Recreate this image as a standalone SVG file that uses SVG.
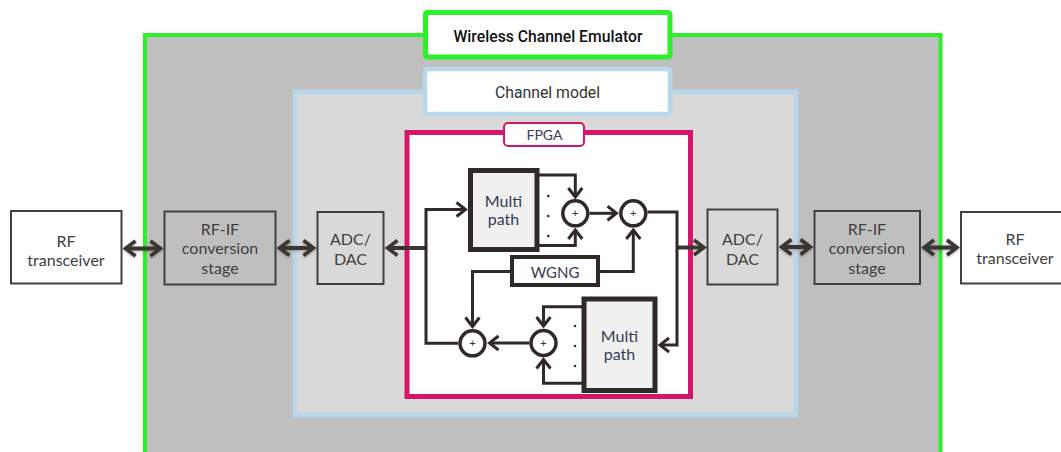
<svg xmlns="http://www.w3.org/2000/svg" width="1061" height="452" viewBox="0 0 1061 452">
  <style>
    .lbl { font-family: Lato, "Liberation Sans", sans-serif; font-size: 16px; fill: #404040; text-anchor: middle; }
    .in { font-family: Lato, "Liberation Sans", sans-serif; fill: #343d52; text-anchor: middle; }
    .box { stroke: #404040; stroke-width: 2; }
    .blk { fill: #f0f0f0; stroke: #2f2a27; stroke-width: 5; }
    .sum { fill: #ffffff; stroke: #2f2a27; stroke-width: 3.5; }
    .wire { fill: none; stroke: #2f2a27; stroke-width: 3; stroke-linejoin: miter; }
    .link { fill: none; stroke: #3a3531; stroke-width: 4; }
    .plus { font-family: "Liberation Sans", sans-serif; font-size: 11px; fill: #2a3040; text-anchor: middle; }
    .dot { fill: #2f2a27; }
  </style>
  <defs>
    <marker id="chevBig" viewBox="-13 -10 18 20" markerWidth="18" markerHeight="20" refX="0" refY="0" orient="auto-start-reverse" markerUnits="userSpaceOnUse">
      <path d="M-10,-7.5 L0,0 L-10,7.5" fill="none" stroke="#3a3531" stroke-width="3.5"/>
    </marker>
    <marker id="chev" viewBox="-12 -10 16 20" markerWidth="16" markerHeight="20" refX="0" refY="0" orient="auto" markerUnits="userSpaceOnUse">
      <path d="M-9,-7 L0,0 L-9,7" fill="none" stroke="#2f2a27" stroke-width="3"/>
    </marker>
    <filter id="soft" filterUnits="userSpaceOnUse" x="0" y="200" width="1061" height="100">
      <feDropShadow dx="0" dy="1" stdDeviation="1.5" flood-color="#000" flood-opacity="0.3"/>
    </filter>
  </defs>

  <!-- emulator enclosure -->
  <g id="emulator">
    <rect x="145" y="35" width="795.5" height="450" fill="#bfbfbf" stroke="#2ef02a" stroke-width="4"/>
    <rect x="425.5" y="12.5" width="244.5" height="44.5" rx="2" fill="#ffffff" stroke="#2ef02a" stroke-width="5"/>
    <text x="548" y="41.5" font-family="Roboto, 'Liberation Sans', sans-serif" font-weight="500" font-size="16" fill="#111111" text-anchor="middle" textLength="189" lengthAdjust="spacingAndGlyphs">Wireless Channel Emulator</text>
  </g>

  <!-- channel model region -->
  <g id="channel-model">
    <rect x="295" y="92" width="501" height="323" fill="#d9d9d9" stroke="#b7d7ea" stroke-width="4.5"/>
    <rect x="425" y="69" width="245" height="45" rx="2" fill="#ffffff" stroke="#b7d7ea" stroke-width="4.5"/>
    <text x="547.5" y="97.5" font-family="Roboto, 'Liberation Sans', sans-serif" font-size="16.5" fill="#333333" text-anchor="middle" textLength="105" lengthAdjust="spacingAndGlyphs">Channel model</text>
  </g>

  <!-- FPGA region -->
  <g id="fpga">
    <rect x="407" y="132.5" width="283.5" height="264" fill="#ffffff" stroke="#d51567" stroke-width="5"/>
    <rect x="504" y="123" width="80" height="23" rx="4" fill="#ffffff" stroke="#d51567" stroke-width="2"/>
    <text class="in" x="544.5" y="140" font-size="14">FPGA</text>
  </g>

  <!-- outer blocks -->
  <g id="rf-left">
    <rect class="box" x="11" y="211" width="110.5" height="72.5" fill="#ffffff"/>
    <text class="lbl" x="66" y="246.5">RF</text>
    <text class="lbl" x="66" y="265.5">transceiver</text>
  </g>
  <g id="rfif-left">
    <rect class="box" x="164.5" y="211.5" width="111" height="73" fill="#bfbfbf"/>
    <text class="lbl" x="220" y="234.5">RF-IF</text>
    <text class="lbl" x="220" y="254">conversion</text>
    <text class="lbl" x="220" y="273.5">stage</text>
  </g>
  <g id="adc-left">
    <rect class="box" x="317.5" y="212" width="66" height="72" fill="#d9d9d9"/>
    <text class="lbl" x="350.5" y="245">ADC/</text>
    <text class="lbl" x="350.5" y="264.5">DAC</text>
  </g>
  <g id="adc-right">
    <rect class="box" x="707.5" y="209.5" width="70" height="75" fill="#d9d9d9"/>
    <text class="lbl" x="742.5" y="245">ADC/</text>
    <text class="lbl" x="742.5" y="264.5">DAC</text>
  </g>
  <g id="rfif-right">
    <rect class="box" x="814.5" y="211" width="105.5" height="73" fill="#bfbfbf"/>
    <text class="lbl" x="867" y="235">RF-IF</text>
    <text class="lbl" x="867" y="254">conversion</text>
    <text class="lbl" x="867" y="273.5">stage</text>
  </g>
  <g id="rf-right">
    <rect class="box" x="961" y="212" width="110" height="71.5" fill="#ffffff"/>
    <text class="lbl" x="1015" y="245">RF</text>
    <text class="lbl" x="1015" y="264">transceiver</text>
  </g>

  <!-- FPGA processing blocks -->
  <g id="multipath-top">
    <rect class="blk" x="470.5" y="170.5" width="66.5" height="79"/>
    <text class="in" x="503.5" y="206.5" font-size="16">Multi</text>
    <text class="in" x="503.5" y="225" font-size="16">path</text>
    <circle class="dot" cx="548.3" cy="196" r="1.3"/>
    <circle class="dot" cx="548.3" cy="216" r="1.3"/>
    <circle class="dot" cx="548.3" cy="236" r="1.3"/>
  </g>
  <g id="multipath-bottom">
    <rect class="blk" x="584" y="299" width="71" height="91.5"/>
    <text class="in" x="619.5" y="341.5" font-size="16">Multi</text>
    <text class="in" x="619.5" y="360" font-size="16">path</text>
    <circle class="dot" cx="575" cy="326" r="1.3"/>
    <circle class="dot" cx="575" cy="346" r="1.3"/>
    <circle class="dot" cx="575" cy="366" r="1.3"/>
  </g>
  <g id="wgng">
    <rect x="512" y="257" width="86" height="28" fill="#ffffff" stroke="#2f2a27" stroke-width="4"/>
    <text class="in" x="555" y="277.5" font-size="15">WGNG</text>
  </g>
  <g id="sum-1">
    <circle class="sum" cx="575.3" cy="213.3" r="12.5"/>
    <text class="plus" x="575.3" y="217">+</text>
  </g>
  <g id="sum-2">
    <circle class="sum" cx="633.3" cy="213.3" r="12.5"/>
    <text class="plus" x="633.3" y="217">+</text>
  </g>
  <g id="sum-3">
    <circle class="sum" cx="472.5" cy="343.3" r="12.5"/>
    <text class="plus" x="472.5" y="347">+</text>
  </g>
  <g id="sum-4">
    <circle class="sum" cx="543.5" cy="343" r="12.5"/>
    <text class="plus" x="543.5" y="346.7">+</text>
  </g>

  <!-- connectors -->
  <g id="connectors">
    <!-- bidirectional links between outer blocks -->
    <g filter="url(#soft)">
      <line class="link" x1="125.5" y1="248.5" x2="160.5" y2="248.5" marker-start="url(#chevBig)" marker-end="url(#chevBig)"/>
      <line class="link" x1="279.5" y1="248" x2="313.5" y2="248" marker-start="url(#chevBig)" marker-end="url(#chevBig)"/>
      <line class="link" x1="781.5" y1="247" x2="810.5" y2="247" marker-start="url(#chevBig)" marker-end="url(#chevBig)"/>
      <line class="link" x1="924" y1="247.5" x2="957" y2="247.5" marker-start="url(#chevBig)" marker-end="url(#chevBig)"/>
    </g>
    <!-- FPGA input / output -->
    <line class="link" x1="427" y1="248" x2="387.5" y2="248" marker-end="url(#chevBig)"/>
    <line class="link" x1="676" y1="247.5" x2="704" y2="247.5" marker-end="url(#chevBig)"/>
    <!-- input fan-out -->
    <path class="wire" d="M458.2,343.3 H426 V209.5 H465.5" marker-end="url(#chev)"/>
    <!-- upper multipath outputs to first adder -->
    <path class="wire" d="M539,175 H575.3 V197" marker-end="url(#chev)"/>
    <path class="wire" d="M539,245.5 H575.3 V230" marker-end="url(#chev)"/>
    <path class="wire" d="M589.5,213.3 H616.5" marker-end="url(#chev)"/>
    <!-- noise injection -->
    <path class="wire" d="M600,271.5 H633.3 V230" marker-end="url(#chev)"/>
    <path class="wire" d="M510,271.5 H472.5 V326.5" marker-end="url(#chev)"/>
    <!-- forward path output and loop into lower multipath -->
    <path class="wire" d="M647.5,212 H677 V345 H660" marker-end="url(#chev)"/>
    <!-- lower multipath outputs to adder -->
    <path class="wire" d="M582,306.7 H543.5 V326" marker-end="url(#chev)"/>
    <path class="wire" d="M582,383.3 H543.5 V359.5" marker-end="url(#chev)"/>
    <path class="wire" d="M529.3,343 H489.5" marker-end="url(#chev)"/>
  </g>
</svg>
